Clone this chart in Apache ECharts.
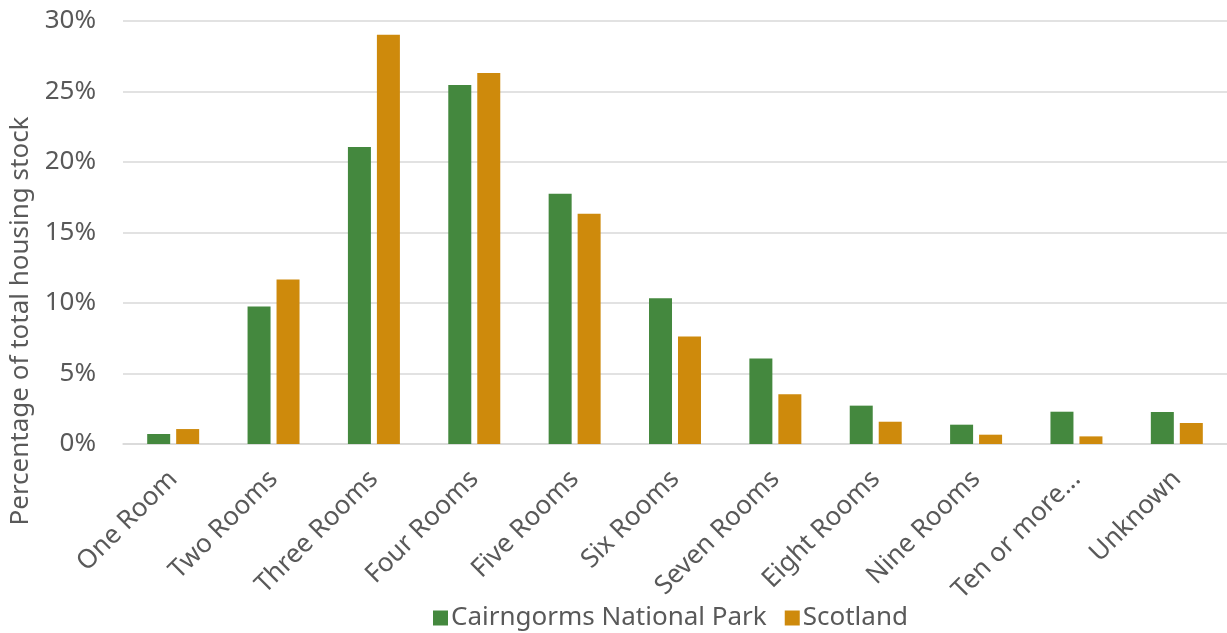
<!DOCTYPE html>
<html>
<head>
<meta charset="utf-8">
<script src="https://cdn.jsdelivr.net/npm/echarts@6/dist/echarts.min.js"></script>
<style>
  html, body { margin: 0; padding: 0; background: #fff; }
  #chart { width: 1227px; height: 633px; }
</style>
</head>
<body>
<div id="chart"></div>
<script>
// Share of housing stock by number of rooms (%)
const categories = ['One Room', 'Two Rooms', 'Three Rooms', 'Four Rooms', 'Five Rooms', 'Six Rooms',
  'Seven Rooms', 'Eight Rooms', 'Nine Rooms', 'Ten or more...', 'Unknown'];
const cairngorms = [0.71, 9.76, 21.06, 25.46, 17.75, 10.33, 6.07, 2.72, 1.37, 2.29, 2.27];
const scotland = [1.06, 11.67, 29.03, 26.31, 16.33, 7.63, 3.52, 1.58, 0.66, 0.54, 1.49];
const seriesNames = ['Cairngorms National Park', 'Scotland'];
const yTitle = 'Percentage of total housing stock';

const FONT = '"Noto Sans", sans-serif';
const FS = 26;
const TEXT = '#595959';
const GRID = '#d9d9d9';

const chart = echarts.init(document.getElementById('chart'));
chart.setOption({
  animation: false,
  textStyle: { fontFamily: FONT, color: TEXT },
  grid: { left: 123, right: 0, top: 21, bottom: 189 },
  legend: {
    top: 600,
    left: 428,
    icon: 'rect',
    itemWidth: 15,
    itemHeight: 15,
    itemGap: 18,
    textStyle: { fontFamily: FONT, fontSize: FS, color: TEXT, padding: [0, 0, 0, -2] },
    data: seriesNames
  },
  xAxis: {
    type: 'category',
    data: categories,
    axisLine: { show: true, lineStyle: { color: GRID, width: 1.5 } },
    axisTick: { show: false },
    axisLabel: { interval: 0, rotate: 45, margin: 31, fontSize: FS, color: TEXT, fontFamily: FONT }
  },
  yAxis: {
    type: 'value',
    min: 0,
    max: 30,
    interval: 5,
    axisLine: { show: false },
    axisTick: { show: false },
    splitLine: { lineStyle: { color: GRID, width: 1.5 } },
    axisLabel: { formatter: '{value}%', margin: 27, fontSize: FS, color: TEXT, fontFamily: FONT }
  },
  graphic: [{
    type: 'text',
    x: 21,
    y: 321,
    rotation: Math.PI / 2,
    style: {
      text: yTitle,
      fontFamily: FONT,
      fontSize: FS,
      fill: TEXT,
      align: 'center',
      verticalAlign: 'middle'
    }
  }],
  series: [
    {
      name: seriesNames[0],
      type: 'bar',
      data: cairngorms,
      barWidth: 23,
      barGap: '26%',
      itemStyle: { color: '#44883e' }
    },
    {
      name: seriesNames[1],
      type: 'bar',
      data: scotland,
      barWidth: 23,
      itemStyle: { color: '#ce8a0c' }
    }
  ]
});
</script>
</body>
</html>
